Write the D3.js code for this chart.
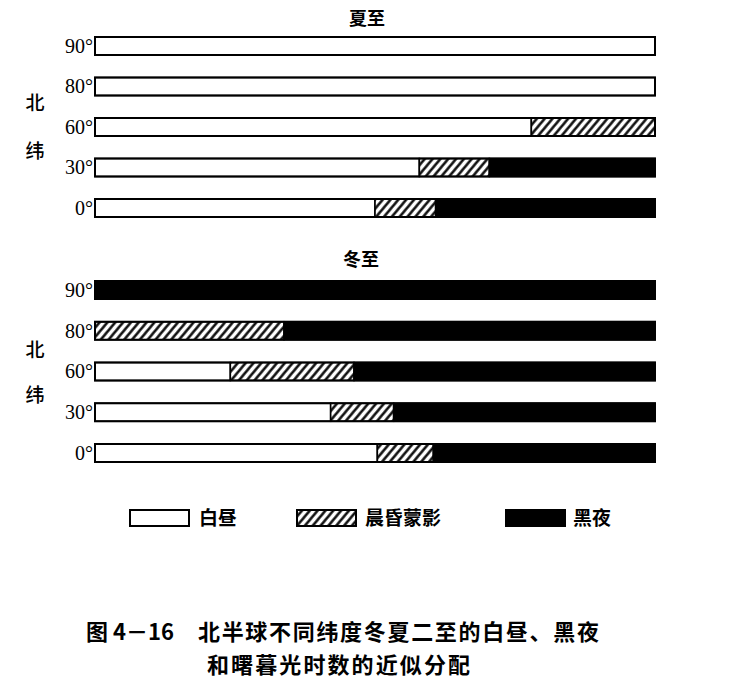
<!DOCTYPE html>
<html>
<head>
<meta charset="utf-8">
<script src="https://cdn.jsdelivr.net/npm/d3@7"></script>
<style>
  html, body { margin: 0; padding: 0; background: #fff; }
  svg { display: block; }
</style>
</head>
<body>
<script>
// ---------------- data ----------------
const latitudes = ["90°", "80°", "60°", "30°", "0°"];
const series = ["白昼", "晨昏蒙影", "黑夜"];
// hours (total 24)
const summerDay      = [24, 24, 18.7, 13.9, 12.0];
const summerTwilight = [0, 0, 5.3, 3.0, 2.6];
const summerNight    = [0, 0, 0, 7.1, 9.4];
const winterDay      = [0, 0, 5.8, 10.1, 12.1];
const winterTwilight = [0, 8.1, 5.3, 2.7, 2.4];
const winterNight    = [24, 15.9, 12.9, 11.2, 9.5];
const panelTitles = ["夏至", "冬至"];
const sideLabel = ["北", "纬"];
const captionLine1a = "图 4－16";
const captionLine1b = "北半球不同纬度冬夏二至的白昼、黑夜";
const captionLine2 = "和曙暮光时数的近似分配";

// ---------------- setup ----------------
const W = 729, H = 698;
const svg = d3.select("body").append("svg").attr("width", W).attr("height", H);

const defs = svg.append("defs");
const pat = defs.append("pattern")
  .attr("id", "hatch").attr("patternUnits", "userSpaceOnUse")
  .attr("width", 6).attr("height", 6)
  .attr("patternTransform", "rotate(40)");
pat.append("rect").attr("width", 6).attr("height", 6).attr("fill", "#fff");
pat.append("line").attr("x1", 1.5).attr("y1", 0).attr("x2", 1.5).attr("y2", 6)
  .attr("stroke", "#000").attr("stroke-width", 2.4);

const fills = ["#fff", "url(#hatch)", "#000"];
const x = d3.scaleLinear().domain([0, 24]).range([95, 655]);
const barH = 18;

const CJK = "'Noto Sans CJK SC', 'Noto Sans', sans-serif";
const SERIF = "'Liberation Serif', 'DejaVu Serif', serif";

function makeRows(day, tw, night) {
  return latitudes.map((lat, i) => ({ lat, "白昼": day[i], "晨昏蒙影": tw[i], "黑夜": night[i] }));
}

const panels = [
  { title: panelTitles[0], titleX: 367, titleY: 25, yRange: [46, 208], side: [103, 151],
    rows: makeRows(summerDay, summerTwilight, summerNight) },
  { title: panelTitles[1], titleX: 361, titleY: 266, yRange: [290, 453], side: [350, 395],
    rows: makeRows(winterDay, winterTwilight, winterNight) }
];

const stack = d3.stack().keys(series);

panels.forEach(p => {
  const g = svg.append("g");
  const y = d3.scalePoint().domain(latitudes).range(p.yRange);

  g.append("text").attr("x", p.titleX).attr("y", p.titleY)
    .attr("text-anchor", "middle").attr("font-family", CJK).attr("font-weight", 700)
    .attr("font-size", 18).text(p.title);

  sideLabel.forEach((s, i) => {
    g.append("text").attr("x", 35).attr("y", p.side[i]).attr("dy", "0.35em")
      .attr("text-anchor", "middle").attr("font-family", CJK).attr("font-weight", 500)
      .attr("font-size", 19).text(s);
  });

  // latitude labels via axis
  const axis = d3.axisLeft(y).tickSize(0).tickPadding(2);
  const ax = g.append("g").attr("transform", `translate(${x(0)},0)`).call(axis);
  ax.attr("font-size", null).attr("font-family", null);
  ax.select(".domain").remove();
  ax.selectAll("text").style("font-family", SERIF).style("font-size", "20px").attr("fill", "#000");

  const layers = stack(p.rows);
  layers.forEach((layer, k) => {
    g.append("g").selectAll("rect").data(layer.filter(d => d[1] > d[0])).join("rect")
      .attr("x", d => x(d[0]))
      .attr("y", d => y(d.data.lat) - barH / 2)
      .attr("width", d => x(d[1]) - x(d[0]))
      .attr("height", barH)
      .attr("fill", fills[k])
      .attr("stroke", "#000").attr("stroke-width", 1.6);
  });
  // outline of whole bar
  g.append("g").selectAll("rect").data(p.rows).join("rect")
    .attr("x", x(0)).attr("y", d => y(d.lat) - barH / 2)
    .attr("width", x(24) - x(0)).attr("height", barH)
    .attr("fill", "none").attr("stroke", "#000").attr("stroke-width", 2);
});

// ---------------- legend ----------------
const legendItems = [
  { key: series[0], bx: 130, tx: 199 },
  { key: series[1], bx: 297, tx: 365 },
  { key: series[2], bx: 506, tx: 573 }
];
const lg = svg.append("g");
legendItems.forEach((d, i) => {
  lg.append("rect").attr("x", d.bx).attr("y", 510).attr("width", 59).attr("height", 16)
    .attr("fill", fills[i]).attr("stroke", "#000").attr("stroke-width", 2);
  lg.append("text").attr("x", d.tx).attr("y", 518).attr("dy", "0.36em")
    .attr("font-family", CJK).attr("font-weight", 700).attr("font-size", 19).text(d.key);
});

// ---------------- caption ----------------
const cap = svg.append("g").attr("font-family", CJK).attr("font-weight", 700).attr("fill", "#000");
cap.append("text").attr("x", 86).attr("y", 640).attr("font-size", 22).text(captionLine1a);
cap.append("text").attr("x", 198).attr("y", 640).attr("font-size", 22)
  .attr("textLength", 401).attr("lengthAdjust", "spacing").text(captionLine1b);
cap.append("text").attr("x", 207).attr("y", 673).attr("font-size", 22)
  .attr("textLength", 263).attr("lengthAdjust", "spacing").text(captionLine2);
</script>
</body>
</html>
